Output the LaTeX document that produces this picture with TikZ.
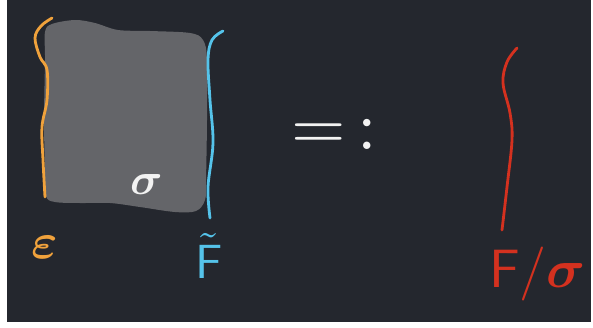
\documentclass[tikz,border=0pt]{standalone}
\usepackage{graphicx}
\definecolor{board}{RGB}{36,39,46}
\definecolor{slab}{RGB}{100,101,105}
\definecolor{chalkorange}{RGB}{240,162,60}
\definecolor{chalkblue}{RGB}{85,195,234}
\definecolor{chalkred}{RGB}{212,49,31}
\definecolor{chalkwhite}{RGB}{242,242,242}
\tikzset{
  stroke/.style={line width=2.8pt, line cap=round, line join=round},
  label/.style={inner sep=0pt, anchor=base west},
}
\begin{document}
\begin{tikzpicture}[x=1pt,y=-1pt]
\useasboundingbox (0,0) rectangle (593,327);
\fill[white] (0,0) rectangle (593,327);
\fill[board] (7,0) rectangle (591,322);
% gray block
\fill[slab] plot[smooth cycle, tension=0.55] coordinates {
  (52,24) (75,20) (95,23) (118,30) (150,31) (190,33) (203,40) (207,60)
  (207,120) (206,180) (205,200) (196,211) (175,212) (140,207) (110,203)
  (80,203) (55,202) (46,196) (45,170) (44,120) (45,60) (45,32)};
% orange line
\draw[stroke, chalkorange] plot[smooth, tension=0.6] coordinates {
  (52,18) (41,26) (35,38) (40,57) (47,70) (47,100) (42,127) (43,160) (45,197)};
% blue line
\draw[stroke, chalkblue] plot[smooth, tension=0.6] coordinates {
  (223,31) (212,40) (208,60) (210,100) (213,143) (208,187) (210,218)};
% red line
\draw[stroke, chalkred] plot[smooth, tension=0.6] coordinates {
  (517,48) (507,62) (503,83) (510,113) (512,140) (507,187) (502,230)};
% labels
\node[label, text=chalkorange] (eps) at (31,258) {\scalebox{5}{\boldmath$\varepsilon$}};
\node[label, text=chalkblue] (ft) at (195,278) {\scalebox{4.8}{$\tilde{\mathsf{F}}$}};
\node[label, text=chalkwhite] (sig) at (130,194) {\scalebox{4.5}{\boldmath$\sigma$}};
\node[label, text=chalkwhite] (eq) at (291,149.5) {\scalebox{7}{${=}\,{:}$}};
\node[label, text=chalkred] (fs) at (489,287) {\scalebox{5.4}{$\mathsf{F}/\mbox{\boldmath$\sigma$}$}};
\end{tikzpicture}
\end{document}
